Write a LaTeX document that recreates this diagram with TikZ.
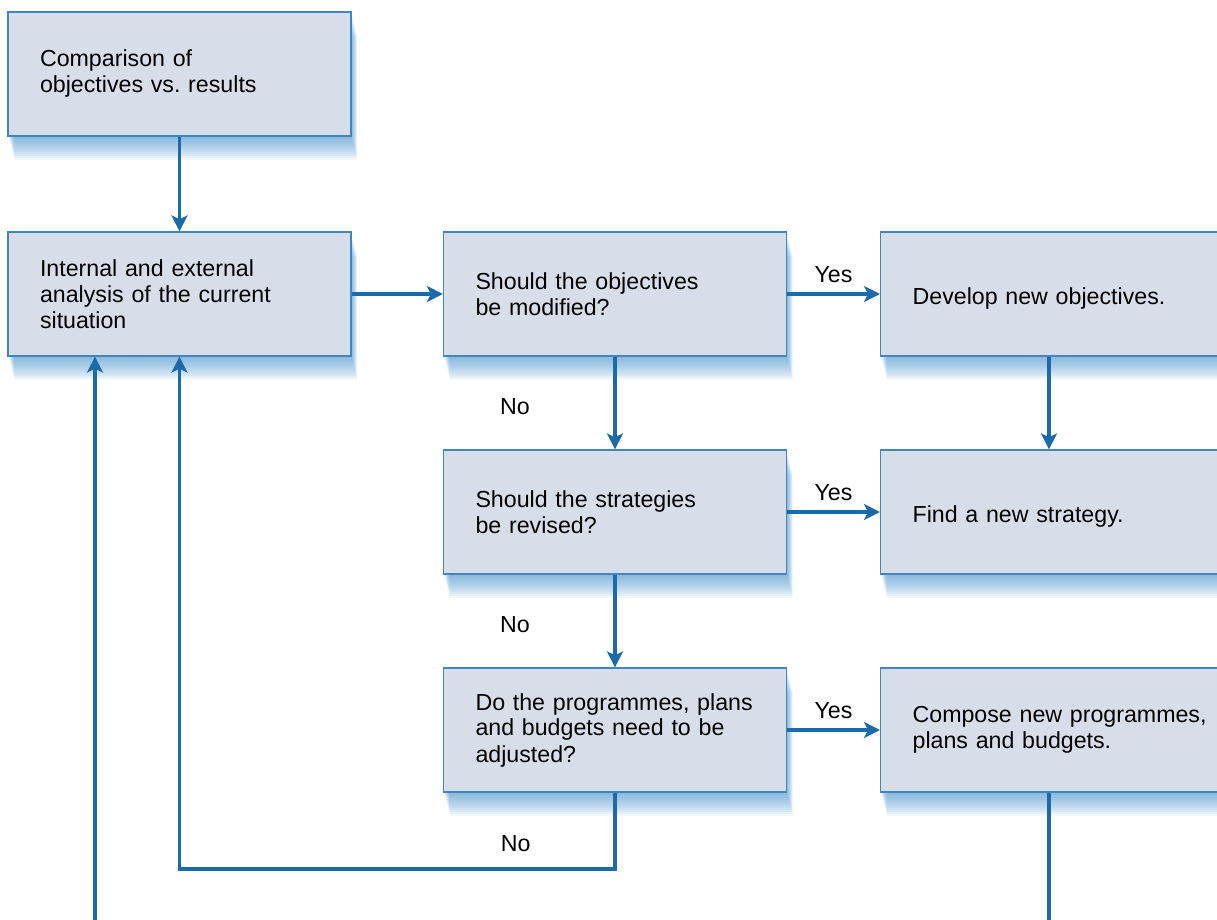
\documentclass[tikz,border=0pt]{standalone}
\usepackage{fontspec}
\setmainfont{Liberation Sans}
\usepackage{xcolor}
\usepackage{tikz}
\usetikzlibrary{arrows.meta,positioning,shadows}
\definecolor{boxfill}{HTML}{D7DEEA}
\definecolor{boxline}{HTML}{3F86C4}
\definecolor{flowblue}{HTML}{1B6BAA}
\definecolor{glow}{HTML}{3A88C6}
\frenchspacing

\begin{document}
\begin{tikzpicture}[x=0.5pt, y=-0.5pt, font=\fontsize{11.6}{13}\selectfont,
    glowlayer/.style={drop shadow={fill=glow, opacity=.07, shadow xshift=#1*0.25pt, shadow yshift=-#1*1pt}},
    box/.style={draw=boxline, line width=0.6pt, fill=boxfill, minimum height=62pt, text width=139.5pt, inner xsep=16pt, align=left,
        glowlayer/.list={12,11,...,1}},
    wbox/.style={box, text width=150pt, anchor=west},
    oneline/.style={text height=12.5pt},
    flow/.style={draw=flowblue, line width=1.6pt, -{Stealth[length=8pt, width=8pt, inset=2pt]}},
    line/.style={draw=flowblue, line width=1.6pt},
    lbl/.style={text=black, inner sep=1pt},
    nolbl/.style={lbl, xshift=-50pt, yshift=-2pt}]
    \useasboundingbox (0,0) rectangle (1217,920);
    \coordinate (fx) at (1049,0);
    \coordinate (loop) at (179.5,869);
    \coordinate (in) at (95,920);
    \coordinate (out) at (1049,920);
    \node[box] (cmp) at (179.5,74) {Comparison of\\objectives vs. results};
    \node[box] (anl) at (179.5,294) {Internal and external\\analysis of the current\\situation};
    \node[box] (obj) at (615,294) {Should the objectives\\be modified?};
    \node[wbox, oneline] (newobj) at (880,294) {Develop new objectives.};
    \node[box] (str) at (615,512) {Should the strategies\\be revised?};
    \node[wbox, oneline] (newstr) at (880,512) {Find a new strategy.};
    \node[box] (prg) at (615,730) {Do the programmes, plans\\and budgets need to be\\adjusted?};
    \node[wbox] (newprg) at (880,730) {Compose new programmes,\\plans and budgets.};
    % connectors
    \draw[flow] (cmp) -- (anl);
    \draw[flow] (anl) -- (obj);
    \draw[flow] (obj) -- node[lbl, above=4pt] {Yes} (newobj);
    \draw[flow] (obj) -- node[nolbl] {No} (str);
    \draw[flow] (newobj.south -| fx) -- (newstr.north -| fx);
    \draw[flow] (str) -- node[lbl, above=4pt] {Yes} (newstr);
    \draw[flow] (str) -- node[nolbl] {No} (prg);
    \draw[flow] (prg) -- node[lbl, above=4pt] {Yes} (newprg);
    \draw[flow] (prg.south) |- node[lbl, pos=0.614, above=7pt] {No} (loop) -- (anl.south);
    \draw[flow] (in) -- (in |- anl.south);
    \draw[line] (newprg.south -| fx) -- (out);
\end{tikzpicture}
\end{document}
